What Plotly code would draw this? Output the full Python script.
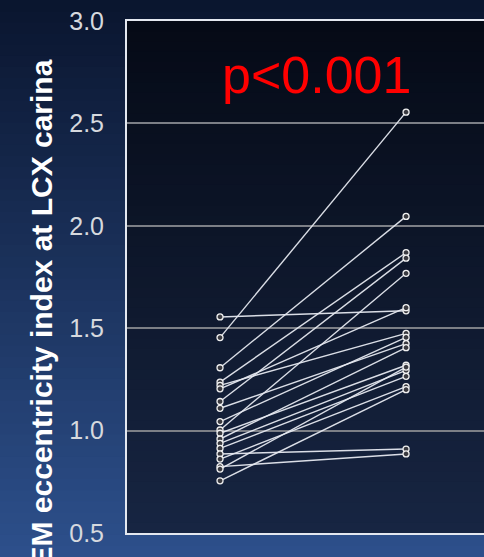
import plotly.graph_objects as go

# ---- data ----
groups = ["Pre", "Post"]
x_pos = [1, 2]
pre_values = [1.555, 1.454, 1.307, 1.237, 1.221, 1.204, 1.142, 1.109, 1.044, 1.003,
              0.987, 0.959, 0.938, 0.913, 0.886, 0.861, 0.824, 0.812, 0.755]
post_values = [1.585, 2.555, 2.046, 1.869, 1.475, 1.600, 1.842, 1.425, 1.455, 1.768,
               1.319, 1.405, 1.294, 1.265, 0.910, 1.215, 0.886, 1.310, 1.200]
y_ticks = [0.5, 1.0, 1.5, 2.0, 2.5, 3.0]
p_text = "p<0.001"
y_title = "EEM eccentricity index at LCX carina"

W, H = 484, 557
L, R, T, B = 127, 0, 21, 24
pw, ph = W - L - R, H - T - B


def px_to_paper_x(px):
    return (px - L) / pw


def px_to_paper_y(py):
    return (H - B - py) / ph


def lerp(c1, c2, f):
    return tuple(round(a + (b - a) * f) for a, b in zip(c1, c2))


shapes = []
# figure background gradient
top_c, bot_c = (10, 21, 46), (45, 80, 140)
n = 50
for i in range(n):
    y0 = H * i / n
    y1 = H * (i + 1) / n + 1
    c = lerp(top_c, bot_c, (i + 0.5) / n)
    shapes.append(dict(type="rect", xref="paper", yref="paper",
                       x0=px_to_paper_x(0), x1=px_to_paper_x(W),
                       y0=px_to_paper_y(y1), y1=px_to_paper_y(y0),
                       fillcolor="rgb(%d,%d,%d)" % c, line=dict(width=0), layer="below"))
# plot area gradient
ptop, pbot = (5, 10, 22), (23, 37, 66)
for i in range(n):
    y0 = T + ph * i / n
    y1 = min(T + ph * (i + 1) / n + 1, T + ph)
    c = lerp(ptop, pbot, (i + 0.5) / n)
    shapes.append(dict(type="rect", xref="paper", yref="paper",
                       x0=0, x1=1,
                       y0=px_to_paper_y(y1), y1=px_to_paper_y(y0),
                       fillcolor="rgb(%d,%d,%d)" % c, line=dict(width=0), layer="below"))

fig = go.Figure()

xs, ys = [], []
for a, b in zip(pre_values, post_values):
    xs += [x_pos[0], x_pos[1], None]
    ys += [a, b, None]

fig.add_trace(go.Scatter(
    x=xs, y=ys, mode="lines+markers",
    line=dict(color="rgba(230,233,240,0.95)", width=1.4),
    marker=dict(symbol="circle", size=6, color="#3a3a40",
                line=dict(color="#f0f0f0", width=1.3)),
    hoverinfo="skip", showlegend=False, connectgaps=False,
))

fig.update_layout(
    width=W, height=H,
    margin=dict(l=L, r=R, t=T, b=B, pad=0),
    paper_bgcolor="rgb(28,50,92)",
    plot_bgcolor="rgba(0,0,0,0)",
    shapes=shapes,
    showlegend=False,
    xaxis=dict(range=[0.5, 2.419], showgrid=False, zeroline=False,
               showticklabels=False, ticks="",
               showline=True, mirror=True, linecolor="#e4e8f0", linewidth=2),
    yaxis=dict(range=[0.5, 3.0], tickvals=y_ticks, tickformat=".1f",
               showgrid=True, gridcolor="#7c7f86", gridwidth=2, zeroline=False,
               showline=True, mirror=False, linecolor="#e4e8f0", linewidth=2,
               ticks="outside", ticklen=16, tickcolor="rgba(0,0,0,0)",
               tickfont=dict(family="Liberation Sans, Arial", size=25, color="#d6d9de")),
    annotations=[
        dict(text=p_text, xref="paper", yref="paper",
             x=px_to_paper_x(316), y=px_to_paper_y(75),
             xanchor="center", yanchor="middle", showarrow=False,
             font=dict(family="Liberation Sans, Arial", size=52, color="#ff0000")),
        dict(text="<b>" + y_title + "</b>", xref="paper", yref="paper",
             x=px_to_paper_x(41), y=px_to_paper_y(58),
             xanchor="center", yanchor="top", textangle=-90, showarrow=False,
             font=dict(family="Liberation Sans, Arial", size=30, color="#ffffff")),
    ],
)

fig.write_html("out.html", config={"displayModeBar": False},
               post_script="document.body.style.margin='0';document.body.style.padding='0';")
